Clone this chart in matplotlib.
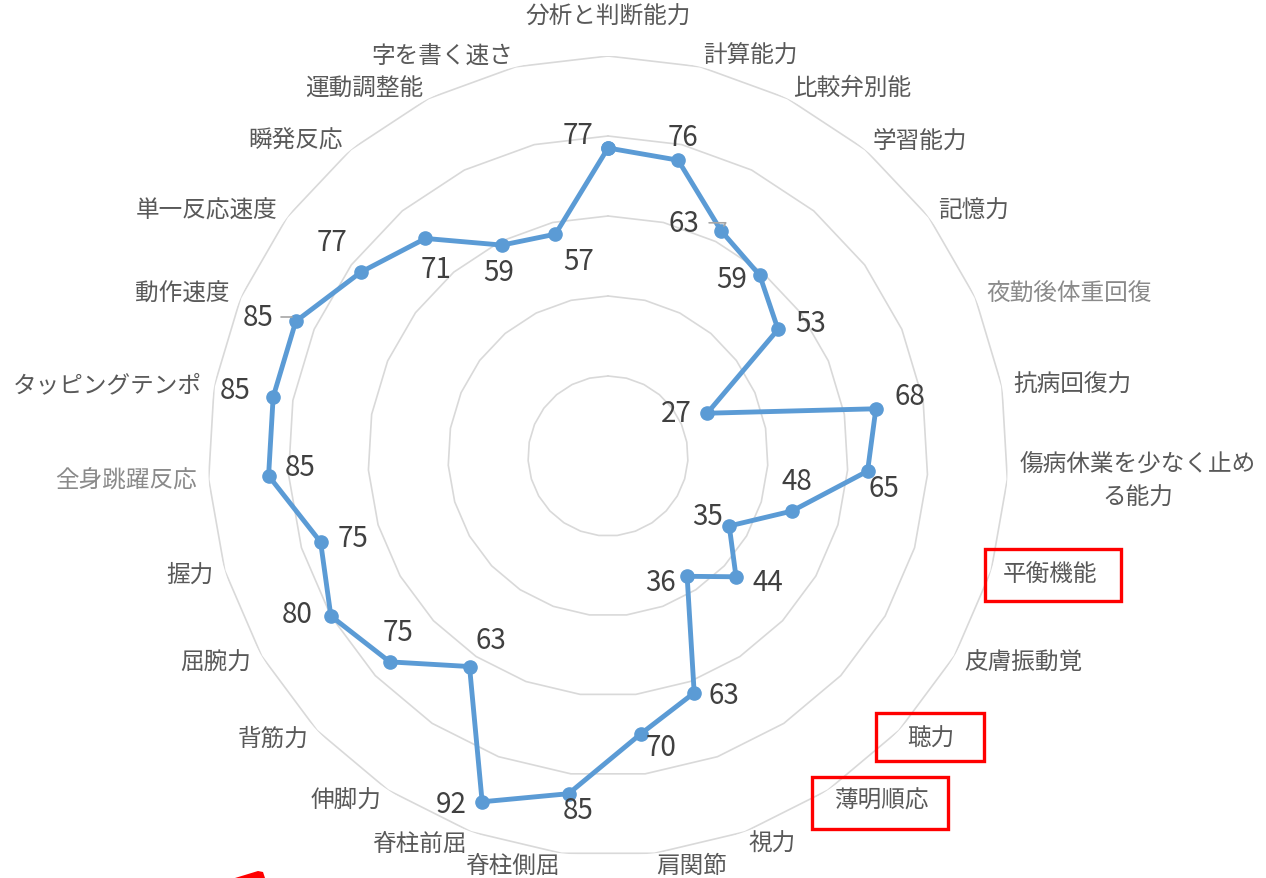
import numpy as np
import matplotlib
matplotlib.use("Agg")
import matplotlib.pyplot as plt
from matplotlib.patches import Rectangle, Polygon

plt.rcParams["font.family"] = ["Noto Sans CJK JP", "DejaVu Sans"]

#  Data 
categories = [
    "分析と判断能力", "計算能力", "比較弁別能", "学習能力", "記憶力",
    "夜勤後体重回復", "抗病回復力", "傷病休業を少なく止め\nる能力", "平衡機能",
    "皮膚振動覚", "聴力", "薄明順応", "視力", "肩関節", "脊柱側屈",
    "脊柱前屈", "伸脚力", "背筋力", "屈腕力", "握力", "全身跳躍反応",
    "タッピングテンポ", "動作速度", "単一反応速度", "瞬発反応",
    "運動調整能", "字を書く速さ",
]
scores = [77, 76, 63, 59, 53, 27, 68, 65, 48, 35, 44, 36, 63, 70, 85,
          92, 63, 75, 80, 75, 85, 85, 85, 77, 71, 59, 57]
rings = [20, 40, 60, 80, 100]
faint_labels = ["夜勤後体重回復", "全身跳躍反応"]
boxed_labels = ["平衡機能", "聴力", "薄明順応"]

# data label offsets (pixels, right / up) as placed in the original
label_offsets = [
    (-30, 13), (5, 23), (-37, 8), (-28, -4), (33, 6), (-31, 0), (34, 13),
    (16, -17), (5, 30), (-22, 10), (32, -5), (-27, -6), (30, -2), (21, -13),
    (10, -16), (-31, -2), (21, 27), (8, 30), (-34, 2), (32, 4), (32, 9),
    (-38, 7), (-38, 4), (-29, 30), (11, -31), (-3, -27), (23, -27),
]

BLUE = "#5B9BD5"
GRID = "#d9d9d9"
TEXT = "#595959"

#  Figure 
W, H = 1266, 879
fig = plt.figure(figsize=(W / 100, H / 100), dpi=100)
cx, cy, R = 608, H - 457, 400
ax = fig.add_axes([(cx - R) / W, (cy - R) / H, 2 * R / W, 2 * R / H],
                  projection="polar")
ax.set_theta_zero_location("N")
ax.set_theta_direction(-1)
ax.set_ylim(0, 100)
ax.grid(False)
ax.set_xticks([])
ax.set_yticks([])
ax.spines["polar"].set_visible(False)
ax.patch.set_alpha(0)

n = len(categories)
theta = np.arange(n) * 2 * np.pi / n
theta_closed = np.append(theta, theta[0])

# polygon rings
for r in rings:
    ax.plot(theta_closed, [r] * (n + 1), color=GRID, lw=1.2, zorder=1)

# series
vals = np.append(scores, scores[0])
ax.plot(theta_closed, vals, color=BLUE, lw=3.5, zorder=3,
        marker="o", markersize=9.5, markerfacecolor=BLUE, markeredgecolor=BLUE)

# data labels
for t, v, (dx, dy) in zip(theta, scores, label_offsets):
    ax.annotate(str(v), (t, v), xytext=(dx, dy), textcoords="offset pixels",
                ha="center", va="center", fontsize=20, color="#404040", zorder=4)

# leader lines for two displaced labels
for idx, (x0, y0) in [(2, (-12, 8)), (22, (-15, 4))]:
    ax.annotate("", (theta[idx], scores[idx]), xytext=(x0, y0),
                textcoords="offset pixels",
                arrowprops=dict(arrowstyle="-", color="#a6a6a6", lw=1.2,
                                shrinkA=0, shrinkB=4,
                                connectionstyle="angle,angleA=0,angleB=60"))

# category labels
for t, lab in zip(theta, categories):
    s, c = np.sin(t), np.cos(t)
    if abs(s) < 0.05:
        ha = "center"
        r = 110 if c > 0 else 103
    else:
        ha = "left" if s > 0 else "right"
        r = 103
    color = "#8a8a8a" if lab in faint_labels else TEXT
    ax.text(t, r, lab, ha=ha, va="center", fontsize=17, color=color,
            multialignment="center", linespacing=1.6, clip_on=False)

# red highlight boxes around selected labels (figure pixels, from the top)
highlight_boxes = {
    "平衡機能": (985, 550, 136, 52),
    "聴力": (876, 714, 108, 48),
    "薄明順応": (812, 778, 136, 52),
}
for lab in boxed_labels:
    x, y, w, h = highlight_boxes[lab]
    fig.patches.append(Rectangle((x / W, (H - y - h) / H), w / W, h / H,
                                 transform=fig.transFigure, fill=False,
                                 ec="#ff0000", lw=2.4, zorder=5))

# red arrow tip peeking in at the bottom edge
fig.patches.append(Polygon([(235 / W, 0), (258 / W, 7 / H), (263 / W, 6 / H),
                            (265 / W, 0)], closed=True,
                           transform=fig.transFigure, fc="#ff0000", ec="none"))

plt.savefig("out.png", dpi=100)
